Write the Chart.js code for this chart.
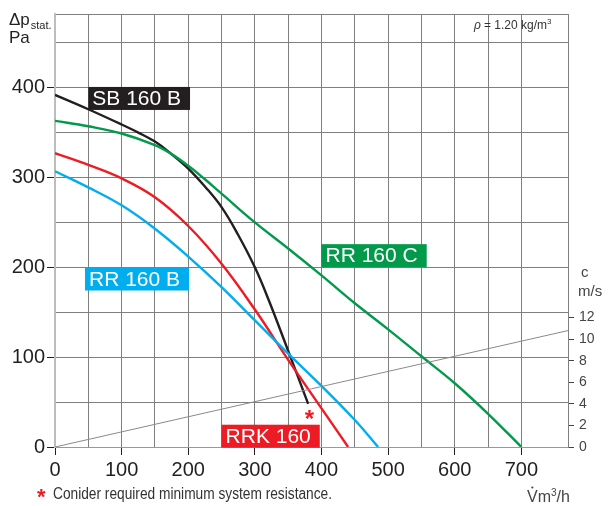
<!DOCTYPE html>
<html>
<head>
<meta charset="utf-8">
<script src="https://cdn.jsdelivr.net/npm/chart.js@4/dist/chart.umd.min.js"></script>
<style>
html,body{margin:0;padding:0;background:#fff;}
#wrap{width:608px;height:506px;position:relative;}
</style>
</head>
<body>
<div id="wrap"><canvas id="c" width="608" height="506"></canvas></div>
<script>
// ---- data ----
const sbFlow  = [0, 50, 100, 125, 150, 175, 200, 225, 250, 275, 300, 320, 350, 380];
const sbPres  = [392, 376, 359, 350, 340, 326, 310, 290, 267, 236, 200, 165, 107, 48];
const rrcFlow = [0, 50, 100, 150, 175, 200, 225, 250, 300, 350, 400, 450, 500, 550, 600, 650, 700];
const rrcPres = [363, 357, 349, 336, 326, 313, 298, 282, 250, 221, 191, 160, 131, 101, 71, 37, 0];
const rrbFlow = [0, 50, 100, 150, 200, 250, 300, 350, 400, 450, 485];
const rrbPres = [307, 289, 269, 243, 212, 178, 141, 104, 68, 30, 0];
const rrkFlow = [0, 50, 100, 150, 200, 250, 300, 350, 400, 440];
const rrkPres = [327, 314, 299, 278, 246, 204, 153, 97, 43, 0];
const velFlow = [0, 770];
const velC    = [0, 10.8];
const xTickLabels = [0, 100, 200, 300, 400, 500, 600, 700];
const yTickLabels = [0, 100, 200, 300, 400];
const cTickLabels = [0, 2, 4, 6, 8, 10, 12];
const seriesNames = ['SB 160 B', 'RR 160 C', 'RR 160 B', 'RRK 160'];

const pts = (xs, ys) => xs.map((v, i) => ({x: v, y: ys[i]}));

const COL = {sb:'#231f20', rrc:'#009a4a', rrb:'#00aeef', rrk:'#ed1c24'};
const FONT = '"Liberation Sans", Arial, Helvetica, sans-serif';
const GRID = '#7f7f7f';

// label anchors (data coordinates: left edge flow, vertical centre pressure)
const labelBoxes = [
  {text: seriesNames[0], fx: 50,  py: 388, color: COL.sb},
  {text: seriesNames[1], fx: 400, py: 213, color: COL.rrc},
  {text: seriesNames[2], fx: 45,  py: 187, color: COL.rrb},
  {text: seriesNames[3], fx: 250, py: 12,  color: COL.rrk},
];

function condensedText(ctx, txt, x, y, targetW) {
  const w = ctx.measureText(txt).width;
  const s = targetW / w;
  ctx.save();
  ctx.translate(x, y);
  ctx.scale(s, 1);
  ctx.fillText(txt, 0, 0);
  ctx.restore();
}

const annot = {
  id: 'annot',
  afterDraw(chart) {
    const ctx = chart.ctx;
    const x = chart.scales.x, y = chart.scales.y;
    ctx.save();
    // series label boxes
    ctx.font = '21px ' + FONT;
    ctx.textBaseline = 'middle';
    labelBoxes.forEach(b => {
      const w = ctx.measureText(b.text).width;
      const left = x.getPixelForValue(b.fx);
      const cy = y.getPixelForValue(b.py);
      ctx.fillStyle = b.color;
      ctx.fillRect(left, cy - 11.5, w + 13, 23);
      ctx.fillStyle = '#fff';
      ctx.textAlign = 'left';
      ctx.fillText(b.text, left + 4, cy + 1);
    });
    // asterisk at end of SB 160 B
    ctx.fillStyle = COL.rrk;
    ctx.font = 'bold 24px ' + FONT;
    ctx.textAlign = 'center';
    ctx.textBaseline = 'alphabetic';
    ctx.fillText('*', x.getPixelForValue(382), y.getPixelForValue(22));

    // axis titles
    ctx.fillStyle = '#231f20';
    ctx.textAlign = 'left';
    ctx.font = '17px ' + FONT;
    ctx.fillText('\u0394p', 9, 25);
    const dpw = ctx.measureText('\u0394p').width;
    ctx.font = '11px ' + FONT;
    ctx.fillText('stat.', 9 + dpw + 1, 29);
    ctx.font = '17px ' + FONT;
    ctx.fillText('Pa', 9, 43);

    // density
    ctx.fillStyle = '#333';
    ctx.font = 'italic 12px ' + FONT;
    ctx.fillText('\u03c1', 474, 29);
    ctx.font = '12px ' + FONT;
    ctx.fillText('= 1.20 kg/m', 484, 29);
    const dw = ctx.measureText('= 1.20 kg/m').width;
    ctx.font = '8px ' + FONT;
    ctx.fillText('3', 484 + dw, 24);

    // right axis title
    ctx.fillStyle = '#444';
    ctx.font = '15px ' + FONT;
    ctx.fillText('c', 581, 277);
    ctx.fillText('m/s', 578, 296);

    // x axis unit  V̇ m³/h
    ctx.fillStyle = '#444';
    ctx.font = '16px ' + FONT;
    const bx = 527, by = 502;
    ctx.fillText('V', bx, by);
    const vw = ctx.measureText('V').width;
    ctx.beginPath();
    ctx.arc(bx + vw / 2, by - 14.5, 1.1, 0, Math.PI * 2);
    ctx.fill();
    ctx.fillText('m', bx + vw, by);
    const mw = ctx.measureText('m').width;
    ctx.font = '10px ' + FONT;
    ctx.fillText('3', bx + vw + mw, by - 6);
    const tw = ctx.measureText('3').width;
    ctx.font = '16px ' + FONT;
    ctx.fillText('/h', bx + vw + mw + tw, by);

    // footnote
    ctx.fillStyle = COL.rrk;
    ctx.font = 'bold 22px ' + FONT;
    ctx.fillText('*', 37, 504);
    ctx.fillStyle = '#333';
    ctx.font = '16px ' + FONT;
    condensedText(ctx, 'Conider required minimum system resistance.', 53, 499, 279);
    ctx.restore();
  }
};

const lineDs = (label, xs, ys, color) => ({
  label, data: pts(xs, ys), borderColor: color, backgroundColor: color,
  borderWidth: 2.4, pointRadius: 0, tension: 0.4,
  yAxisID: 'y', fill: false
});

new Chart(document.getElementById('c'), {
  type: 'line',
  data: {
    datasets: [
      {label: 'c', data: pts(velFlow, velC), borderColor: '#8a8a8a', borderWidth: 1,
       pointRadius: 0, yAxisID: 'y2', fill: false, tension: 0},
      lineDs(seriesNames[2], rrbFlow, rrbPres, COL.rrb),
      lineDs(seriesNames[3], rrkFlow, rrkPres, COL.rrk),
      lineDs(seriesNames[1], rrcFlow, rrcPres, COL.rrc),
      lineDs(seriesNames[0], sbFlow, sbPres, COL.sb),
    ]
  },
  options: {
    responsive: false,
    animation: false,
    events: [],
    layout: {padding: {top: 10, left: 0, right: 0, bottom: 0}},
    plugins: {legend: {display: false}, tooltip: {enabled: false}},
    scales: {
      x: {
        type: 'linear', min: 0, max: 770,
        afterFit: s => { s.height = 59; },
        ticks: {
          stepSize: 50, autoSkip: false, maxRotation: 0, padding: 3,
          color: '#231f20', font: {family: FONT, size: 20},
          callback: v => xTickLabels.includes(v) ? String(v) : ''
        },
        grid: {
          color: GRID, lineWidth: 1, tickLength: 8,
          tickColor: c => (c.tick && xTickLabels.includes(c.tick.value)) ? '#231f20' : 'rgba(0,0,0,0)'
        },
        border: {color: '#999', width: 1}
      },
      y: {
        type: 'linear', position: 'left', min: 0, max: 482,
        afterFit: s => { s.width = 55; },
        ticks: {
          stepSize: 50, autoSkip: false, padding: 2,
          color: '#231f20', font: {family: FONT, size: 20},
          callback: v => yTickLabels.includes(v) ? String(v) : ''
        },
        grid: {
          color: GRID, lineWidth: 1, tickLength: 8,
          tickColor: c => (c.tick && yTickLabels.includes(c.tick.value)) ? '#231f20' : 'rgba(0,0,0,0)'
        },
        border: {color: '#bdbdbd', width: 2}
      },
      y2: {
        type: 'linear', position: 'right', min: 0, max: 482 / 12,
        afterFit: s => { s.width = 40; },
        ticks: {
          stepSize: 2, autoSkip: false, padding: 5,
          color: '#444', font: {family: FONT, size: 14},
          callback: v => cTickLabels.includes(v) ? String(v) : ''
        },
        grid: {
          drawOnChartArea: false, tickLength: 6,
          tickColor: c => (c.tick && cTickLabels.includes(c.tick.value)) ? '#444' : 'rgba(0,0,0,0)'
        },
        border: {color: '#7f7f7f', width: 1}
      }
    }
  },
  plugins: [annot]
});
</script>
</body>
</html>
